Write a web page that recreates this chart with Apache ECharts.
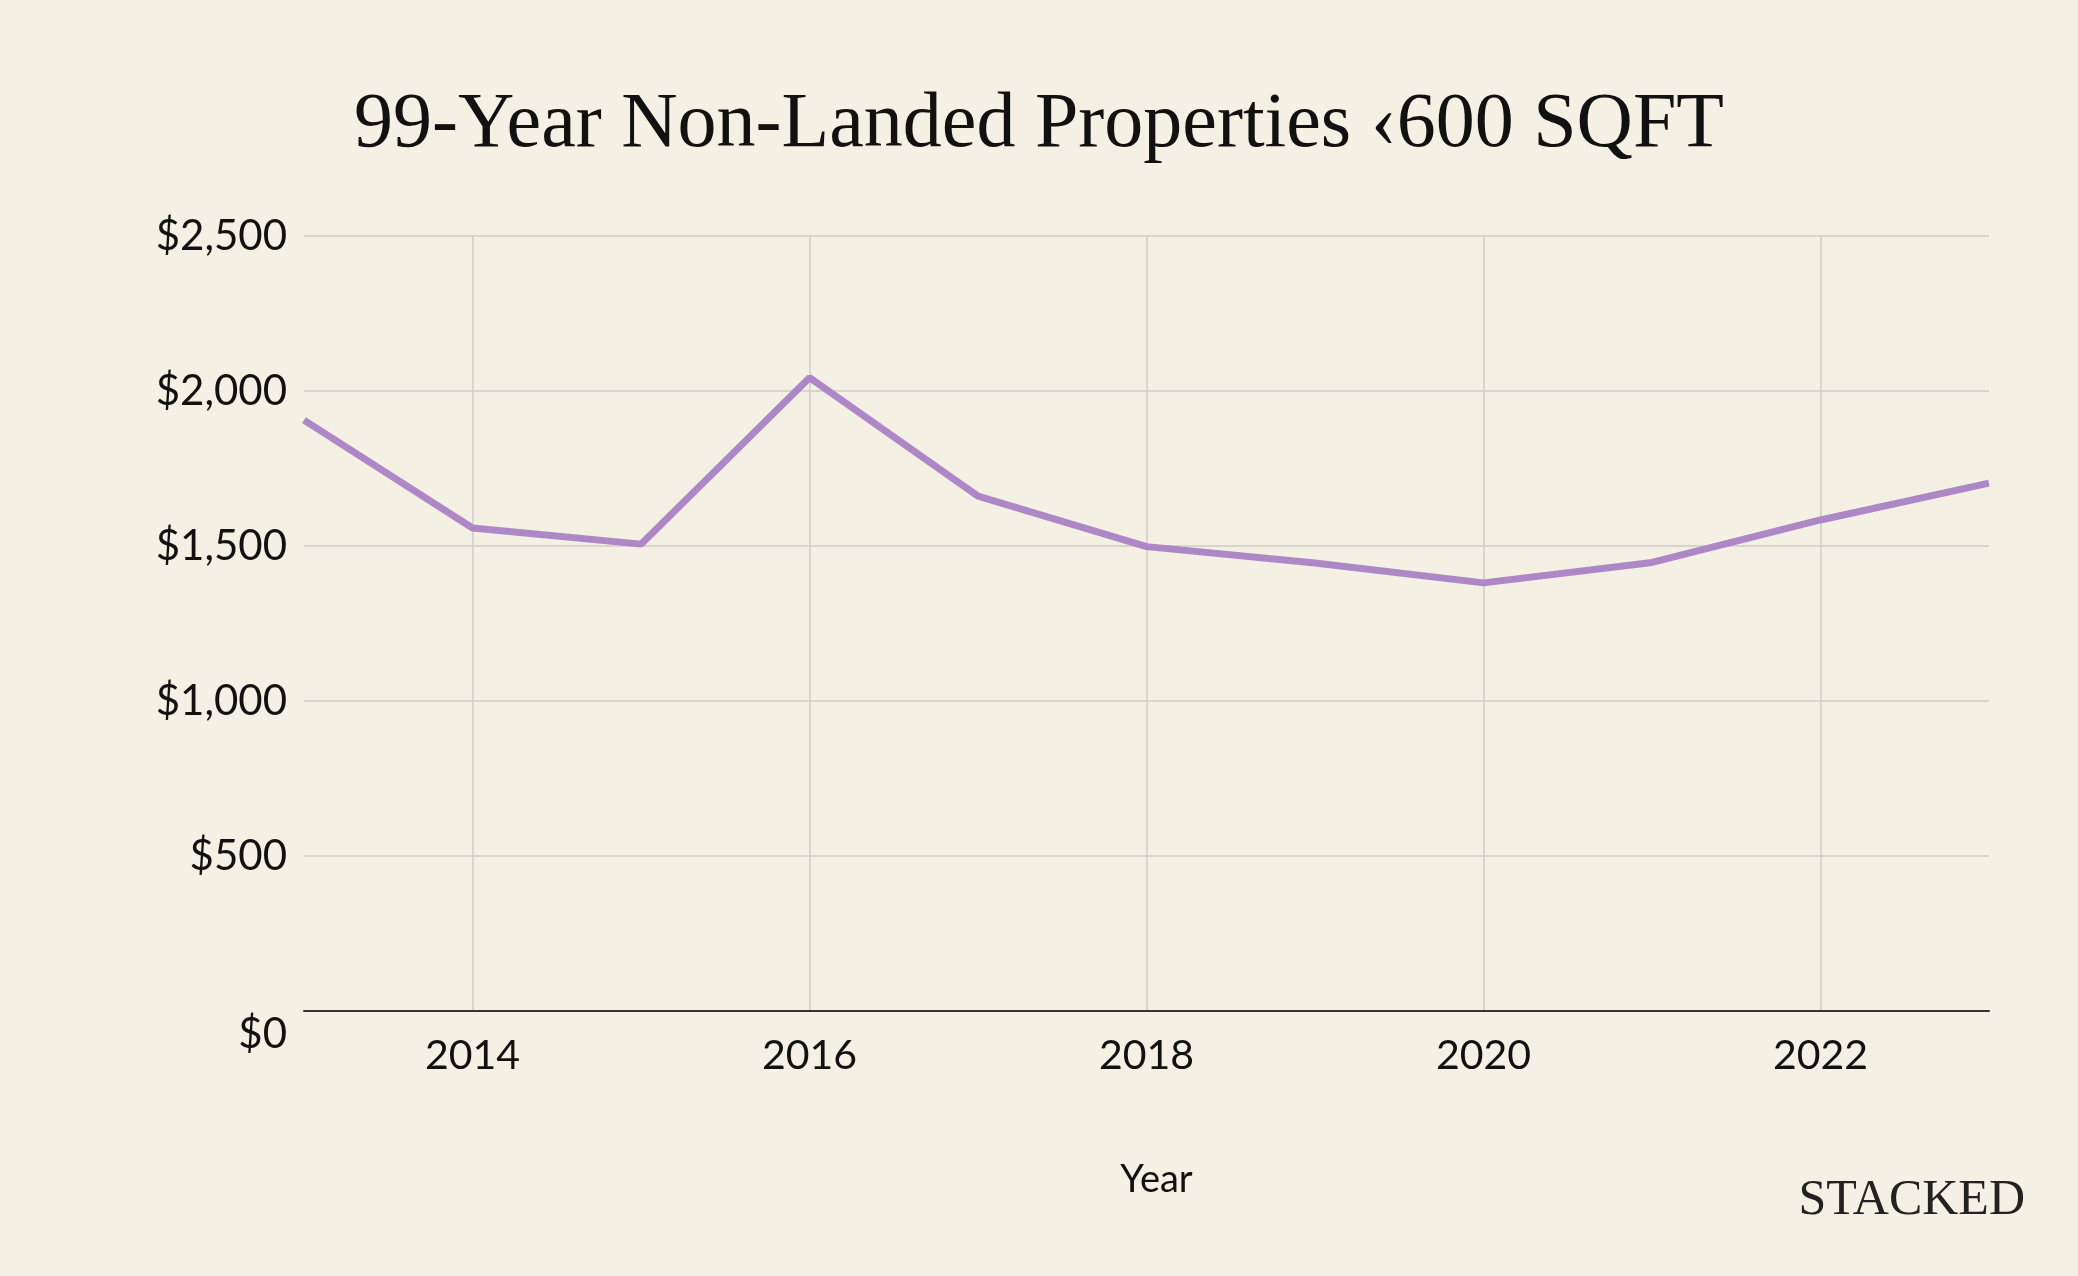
<!DOCTYPE html>
<html>
<head>
<meta charset="utf-8">
<script src="https://cdn.jsdelivr.net/npm/echarts@6/dist/echarts.min.js"></script>
<style>
  html, body { margin: 0; padding: 0; background: #F4F0E4; }
  #chart { width: 2078px; height: 1276px; }
</style>
</head>
<body>
<div id="chart"></div>
<script>
const titleText = '99-Year Non-Landed Properties \u2039600 SQFT';
const years = ['2013','2014','2015','2016','2017','2018','2019','2020','2021','2022','2023'];
const prices = [1906, 1558, 1506, 2043, 1661, 1498, 1445, 1381, 1447, 1584, 1703];
const yTicks = [0, 500, 1000, 1500, 2000, 2500];

const chart = echarts.init(document.getElementById('chart'));
const isEven = (i, v) => Number(v) % 2 === 0;
chart.setOption({
  backgroundColor: '#F4F0E4',
  title: {
    text: titleText,
    left: 'center',
    top: 82,
    textStyle: { fontFamily: 'Liberation Serif', fontWeight: 'normal', fontSize: 78, color: '#111' }
  },
  grid: { left: 304, right: 89, top: 236, bottom: 265 },
  xAxis: {
    type: 'category',
    data: years,
    boundaryGap: false,
    name: 'Year',
    nameLocation: 'middle',
    nameGap: 150,
    nameTextStyle: { fontFamily: 'Lato', fontSize: 38, color: '#111', padding: [0, 0, 0, 20] },
    axisLine: { show: true, lineStyle: { color: '#333', width: 2 } },
    axisTick: { show: false },
    axisLabel: { interval: isEven, margin: 24, fontFamily: 'Lato', fontSize: 41, color: '#111' },
    splitLine: { show: true, interval: isEven, lineStyle: { color: '#cfcdc8', width: 1.5 } }
  },
  yAxis: {
    type: 'value',
    min: yTicks[0],
    max: yTicks[yTicks.length - 1],
    interval: 500,
    axisLine: { show: false },
    axisTick: { show: false },
    axisLabel: {
      margin: 17,
      fontFamily: 'Lato', fontSize: 42, color: '#111',
      formatter: v => v === 0 ? '{z|$0}' : '$' + v.toLocaleString('en-US'),
      rich: { z: { fontFamily: 'Lato', fontSize: 42, color: '#111', padding: [46, 0, 0, 0] } }
    },
    splitLine: { show: true, lineStyle: { color: '#cfcdc8', width: 1.5 } }
  },
  series: [{
    type: 'line',
    data: prices,
    symbol: 'none',
    lineStyle: { color: '#AE88C6', width: 7 },
    itemStyle: { color: '#AE88C6' }
  }],
  graphic: [{
    type: 'text',
    right: 53,
    top: 1176,
    style: { text: 'STACKED', fontFamily: 'Liberation Serif', fontSize: 50, fill: '#222', letterSpacing: 4 }
  }]
});
</script>
</body>
</html>
